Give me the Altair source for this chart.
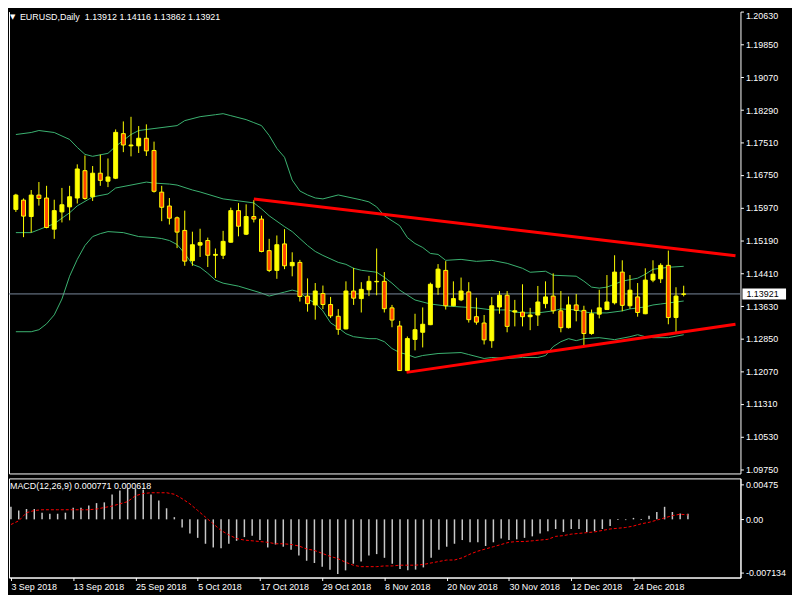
import altair as alt
import pandas as pd

# ---------------- data ----------------
opens = [1.1593, 1.1615, 1.1576, 1.1627, 1.1620, 1.1546, 1.1587, 1.1599, 1.1620, 1.1685,
         1.1623, 1.1679, 1.1660, 1.1667, 1.1773, 1.1744, 1.1744, 1.1762, 1.1733, 1.1634,
         1.1601, 1.1573, 1.1543, 1.1471, 1.1508, 1.1519, 1.1484, 1.1484, 1.1515, 1.1590,
         1.1534, 1.1576, 1.1570, 1.1495, 1.1448, 1.1511, 1.1459, 1.1467, 1.1387, 1.1366,
         1.1393, 1.1367, 1.1339, 1.1309, 1.1399, 1.1381, 1.1402, 1.1421, 1.1422, 1.1359,
         1.1316, 1.1210, 1.1284, 1.1301, 1.1319, 1.1408, 1.1448, 1.1364, 1.1378, 1.1397,
         1.1338, 1.1323, 1.1281, 1.1361, 1.1389, 1.1349, 1.1349, 1.1338, 1.1342, 1.1369,
         1.1387, 1.1352, 1.1312, 1.1366, 1.1353, 1.1298, 1.1344, 1.1355, 1.1371, 1.1444,
         1.1364, 1.1385, 1.1345, 1.1425, 1.1428, 1.1460, 1.1336, 1.13912]
highs = [1.1630, 1.1619, 1.1639, 1.1658, 1.1649, 1.1616, 1.1644, 1.1649, 1.1700, 1.1721,
         1.1696, 1.1723, 1.1714, 1.1783, 1.1802, 1.1813, 1.1791, 1.1795, 1.1754, 1.1649,
         1.1620, 1.1576, 1.1590, 1.1540, 1.1547, 1.1526, 1.1500, 1.1542, 1.1597, 1.1608,
         1.1605, 1.1615, 1.1578, 1.1523, 1.1531, 1.1546, 1.1491, 1.1473, 1.1429, 1.1418,
         1.1412, 1.1385, 1.1356, 1.1422, 1.1454, 1.1420, 1.1435, 1.1500, 1.1444, 1.1366,
         1.1328, 1.1291, 1.1345, 1.1360, 1.1419, 1.1463, 1.1470, 1.1422, 1.1431, 1.1420,
         1.1383, 1.1342, 1.1385, 1.1399, 1.1399, 1.1378, 1.1415, 1.1359, 1.1411, 1.1422,
         1.1441, 1.1399, 1.1386, 1.1392, 1.1364, 1.1355, 1.1402, 1.1437, 1.1484, 1.1472,
         1.1437, 1.1418, 1.1453, 1.1472, 1.1465, 1.1495, 1.1408, 1.14116]
lows = [1.1587, 1.1527, 1.1538, 1.1602, 1.1548, 1.1523, 1.1562, 1.1567, 1.1607, 1.1616,
        1.1613, 1.1649, 1.1646, 1.1665, 1.1729, 1.1719, 1.1727, 1.1720, 1.1633, 1.1565,
        1.1557, 1.1501, 1.1459, 1.1459, 1.1480, 1.1456, 1.1430, 1.1475, 1.1514, 1.1529,
        1.1532, 1.1562, 1.1491, 1.1444, 1.1428, 1.1451, 1.1434, 1.1374, 1.1350, 1.1331,
        1.1356, 1.1335, 1.1295, 1.1308, 1.1366, 1.1348, 1.1387, 1.1389, 1.1348, 1.1313,
        1.1209, 1.1209, 1.1258, 1.1265, 1.1318, 1.1390, 1.1355, 1.1363, 1.1375, 1.1324,
        1.1319, 1.1272, 1.1264, 1.1345, 1.1301, 1.1315, 1.1315, 1.1306, 1.1316, 1.1358,
        1.1345, 1.1301, 1.1310, 1.1327, 1.1269, 1.1295, 1.1334, 1.1354, 1.1367, 1.1351,
        1.1357, 1.1338, 1.1344, 1.1420, 1.1418, 1.1320, 1.1302, 1.13862]
closes = [1.1627, 1.1577, 1.1627, 1.1619, 1.1550, 1.1590, 1.1604, 1.1623, 1.1689, 1.1619,
          1.1679, 1.1662, 1.1670, 1.1776, 1.1746, 1.1746, 1.1762, 1.1732, 1.1636, 1.1598,
          1.1572, 1.1539, 1.1470, 1.1509, 1.1514, 1.1484, 1.1486, 1.1517, 1.1590, 1.1553,
          1.1576, 1.1570, 1.1493, 1.1448, 1.1509, 1.1459, 1.1467, 1.1386, 1.1369, 1.1399,
          1.1367, 1.1340, 1.1308, 1.1399, 1.1382, 1.1403, 1.1422, 1.1422, 1.1357, 1.1330,
          1.1210, 1.1286, 1.1307, 1.1320, 1.1415, 1.1451, 1.1364, 1.1381, 1.1399, 1.1331,
          1.1325, 1.1283, 1.1364, 1.1389, 1.1315, 1.1352, 1.1338, 1.1342, 1.1373, 1.1385,
          1.1352, 1.1312, 1.1366, 1.1353, 1.1298, 1.1345, 1.1359, 1.1373, 1.1444, 1.1365,
          1.1401, 1.1348, 1.1425, 1.1439, 1.1460, 1.1336, 1.1387, 1.13921]

# Bollinger bands (sampled along the bar index)
upper_idx = [0, 2, 3, 5, 7, 8, 9, 10, 12, 13, 15, 16, 18, 21, 22, 24, 26, 27, 28, 30,
             31, 32, 33, 34, 35, 36, 37, 38, 39, 40, 42, 45, 46, 47, 48, 50, 51, 52, 53, 54,
             55, 56, 58, 60, 62, 64, 66, 67, 69, 70, 73, 74, 75, 76, 77, 79, 81, 82, 83, 85, 87]
upper_val = [1.17709, 1.17757, 1.17804, 1.17757, 1.17592, 1.17403, 1.17238, 1.17191, 1.17262, 1.17427,
             1.17709, 1.17804, 1.17851, 1.17921, 1.18039, 1.18133, 1.18180, 1.18204, 1.18157, 1.18063,
             1.17992, 1.17921, 1.17686, 1.17380, 1.17168, 1.16626, 1.16367, 1.16273, 1.16202, 1.16179,
             1.16273, 1.16155, 1.16108, 1.15990, 1.15778, 1.15543, 1.15260, 1.15119, 1.15025, 1.14883,
             1.14860, 1.14719, 1.14742, 1.14695, 1.14719, 1.14648, 1.14530, 1.14436, 1.14460, 1.14365,
             1.14342, 1.14224, 1.14083, 1.14059, 1.14083, 1.14224, 1.14295, 1.14389, 1.14507, 1.14554, 1.14577]
middle_idx = [0, 2, 3, 5, 7, 8, 10, 12, 13, 15, 17, 18, 20, 21, 23, 24, 27, 29, 31, 32,
              33, 35, 36, 37, 38, 39, 40, 42, 43, 44, 45, 47, 48, 49, 50, 52, 54, 56, 58, 60,
              62, 64, 65, 66, 68, 70, 71, 73, 74, 75, 77, 79, 80, 82, 83, 84, 85, 87]
middle_val = [1.15378, 1.15378, 1.15449, 1.15590, 1.15849, 1.16014, 1.16226, 1.16296, 1.16438, 1.16508,
              1.16579, 1.16555, 1.16532, 1.16508, 1.16391, 1.16344, 1.16179, 1.16132, 1.16084, 1.15943,
              1.15778, 1.15519, 1.15402, 1.15237, 1.15072, 1.14931, 1.14836, 1.14671, 1.14624, 1.14530,
              1.14483, 1.14436, 1.14318, 1.14177, 1.14012, 1.13777, 1.13682, 1.13635, 1.13612, 1.13588,
              1.13541, 1.13541, 1.13494, 1.13470, 1.13470, 1.13518, 1.13565, 1.13541, 1.13494, 1.13470,
              1.13470, 1.13518, 1.13565, 1.13612, 1.13659, 1.13682, 1.13706, 1.13753]
lower_idx = [0, 2, 3, 4, 5, 6, 7, 8, 9, 10, 11, 12, 14, 16, 18, 19, 20, 21, 22, 23,
             24, 25, 26, 27, 29, 32, 33, 35, 36, 37, 38, 39, 40, 41, 42, 43, 44, 46, 47, 48,
             49, 50, 51, 52, 53, 55, 58, 59, 61, 62, 64, 66, 68, 69, 70, 71, 72, 73, 74, 76,
             78, 80, 81, 82, 83, 85, 87]
lower_val = [1.13023, 1.13023, 1.13070, 1.13211, 1.13423, 1.13800, 1.14342, 1.14742, 1.15072, 1.15284,
             1.15354, 1.15402, 1.15378, 1.15284, 1.15260, 1.15237, 1.15190, 1.15095, 1.14883, 1.14624,
             1.14554, 1.14412, 1.14248, 1.14177, 1.14106, 1.13941, 1.13871, 1.13965, 1.14012, 1.13965,
             1.13800, 1.13706, 1.13518, 1.13235, 1.13117, 1.12976, 1.12905, 1.12858, 1.12858, 1.12787,
             1.12623, 1.12528, 1.12481, 1.12411, 1.12458, 1.12505, 1.12528, 1.12481, 1.12387, 1.12411,
             1.12387, 1.12411, 1.12411, 1.12458, 1.12670, 1.12787, 1.12858, 1.12811, 1.12858, 1.12882,
             1.12835, 1.12905, 1.12952, 1.12905, 1.12882, 1.12882, 1.12952]

# Hand-drawn trend lines (bar index, price)
trend_upper_idx = [31, 93.75]
trend_upper_val = [1.16179, 1.14827]
trend_lower_idx = [50.9, 93.75]
trend_lower_val = [1.12057, 1.13202]

# MACD(12,26,9)
macd_main = [0.0017, 0.0012, 0.0014, 0.0014, 0.0009, 0.00076, 0.00076, 0.0009, 0.00156, 0.00156,
             0.00188, 0.0022, 0.0023, 0.00335, 0.0039, 0.0042, 0.0042, 0.0040, 0.00335, 0.00255,
             0.0015, 0.0003, -0.0011, -0.0019, -0.0025, -0.0033, -0.0038, -0.0039, -0.0033, -0.0029,
             -0.0024, -0.0022, -0.0028, -0.0038, -0.0034, -0.0037, -0.0041, -0.0049, -0.0056, -0.0059,
             -0.0064, -0.0068, -0.0074, -0.0069, -0.0060, -0.0057, -0.0049, -0.0047, -0.0052, -0.0060,
             -0.0067, -0.0069, -0.0068, -0.0065, -0.0052, -0.0041, -0.0037, -0.0033, -0.0028, -0.0031,
             -0.0031, -0.0036, -0.0031, -0.0026, -0.0028, -0.0027, -0.0025, -0.0023, -0.0019, -0.0016,
             -0.0013, -0.0017, -0.0013, -0.0013, -0.0017, -0.0016, -0.0013, -0.0009, -0.0001, -0.0001,
             0.0002, -0.0001, 0.0005, 0.0010, 0.0017, 0.0010, 0.0008, 0.00077]
macd_signal = [-0.0007, -0.0002, 0.0009, 0.0012, 0.0013, 0.0013, 0.0013, 0.0013, 0.0013, 0.0013,
               0.0013, 0.0014, 0.0016, 0.0018, 0.0021, 0.0024, 0.0032, 0.0035, 0.0036, 0.0036,
               0.0036, 0.0034, 0.0028, 0.0021, 0.0012, 0.0003, -0.0006, -0.0015, -0.0021, -0.0026,
               -0.0028, -0.0029, -0.0030, -0.0031, -0.0033, -0.0033, -0.0034, -0.0036, -0.0040, -0.0042,
               -0.0046, -0.0050, -0.0053, -0.0058, -0.0062, -0.0064, -0.0064, -0.0064, -0.0063, -0.0063,
               -0.0062, -0.0062, -0.0062, -0.0061, -0.0059, -0.0057, -0.0055, -0.0055, -0.0052, -0.0047,
               -0.0043, -0.0040, -0.0037, -0.0034, -0.0031, -0.0030, -0.0030, -0.0029, -0.0028, -0.0027,
               -0.0023, -0.0022, -0.0020, -0.0019, -0.0018, -0.0017, -0.0015, -0.0013, -0.0012, -0.0011,
               -0.0009, -0.0006, -0.0004, -0.0001, 0.0002, 0.0005, 0.0007, 0.0006]

date_label_idx = [0, 8, 16, 24, 32, 40, 48, 56, 64, 72, 80]
date_labels = ["3 Sep 2018", "13 Sep 2018", "25 Sep 2018", "5 Oct 2018", "17 Oct 2018",
               "29 Oct 2018", "8 Nov 2018", "20 Nov 2018", "30 Nov 2018", "12 Dec 2018",
               "24 Dec 2018"]
price_ticks = [1.20630, 1.19850, 1.19070, 1.18290, 1.17510, 1.16750, 1.15970, 1.15190,
               1.14410, 1.13630, 1.12850, 1.12070, 1.11310, 1.10530, 1.09750]
macd_ticks = [0.00475, 0.0, -0.007134]
macd_tick_labels = ["0.00475", "0.00", "-0.007134"]

header_text = "EURUSD,Daily\u00a0 1.13912 1.14116 1.13862 1.13921"
macd_text = "MACD(12,26,9) 0.000771 0.000618"

# ---------------- layout / style ----------------
W = 738
H_MAIN = 466
H_MACD = 100
X_DOMAIN = [-0.25, 93.75]
Y_DOMAIN = [1.09655, 1.20630]
M_DOMAIN = [-0.00787, 0.00554]
FONT = "Liberation Sans"
BULL = "#ffff00"
BEAR = "#ff4500"
BAND = "#3cb371"

xs = alt.Scale(domain=X_DOMAIN, nice=False, zero=False)
ys = alt.Scale(domain=Y_DOMAIN, nice=False, zero=False)
ms = alt.Scale(domain=M_DOMAIN, nice=False, zero=False)

n = len(closes)
candles = pd.DataFrame({
    "i": list(range(n)), "o": opens, "h": highs, "l": lows, "c": closes,
})
candles["dir"] = ["up" if c >= o else "down" for o, c in zip(opens, closes)]

bands = pd.concat([
    pd.DataFrame({"band": "upper", "i": upper_idx, "p": upper_val}),
    pd.DataFrame({"band": "middle", "i": middle_idx, "p": middle_val}),
    pd.DataFrame({"band": "lower", "i": lower_idx, "p": lower_val}),
])
trends = pd.concat([
    pd.DataFrame({"line": "upper", "i": trend_upper_idx, "p": trend_upper_val}),
    pd.DataFrame({"line": "lower", "i": trend_lower_idx, "p": trend_lower_val}),
])
last = pd.DataFrame({"c": [closes[-1]], "t": ["%.5f" % closes[-1]]})
macd_df = pd.DataFrame({"i": list(range(n)), "m": macd_main, "s": macd_signal})


def js_list(vals):
    return "[" + ",".join("'" + v + "'" if isinstance(v, str) else repr(v) for v in vals) + "]"


main_x_axis = alt.Axis(labels=False, ticks=False, domain=True, grid=False, title=None)
main_y_axis = alt.Axis(orient="right", values=price_ticks, format=".5f", tickSize=3,
                       labelPadding=2, labelFlush=True, domain=True, grid=False, title=None)
left_border_axis = alt.Axis(orient="left", labels=False, ticks=False, domain=True,
                            grid=False, title=None)
macd_x_axis = alt.Axis(values=date_label_idx,
                       labelExpr=f"{js_list(date_labels)}[indexof({js_list(date_label_idx)}, datum.value)]",
                       labelAlign="left", labelPadding=2, tickSize=3, labelFlush=False,
                       labelOverlap=False, domain=True, grid=False, title=None)
macd_y_axis = alt.Axis(orient="right", values=macd_ticks,
                       labelExpr=f"{js_list(macd_tick_labels)}[indexof({js_list(macd_ticks)}, datum.value)]",
                       tickSize=3, labelPadding=2, domain=True, grid=False, title=None,
                       labelOverlap=False)


def X(axis, field="i:Q"):
    return alt.X(field, scale=xs, axis=axis, title=None)


def Y(field, axis=None):
    return alt.Y(field, scale=ys, axis=axis, title=None)


def M(field):
    return alt.Y(field, scale=ms, axis=macd_y_axis, title=None)


# ---------------- main price panel ----------------
band_layer = alt.Chart(bands).mark_line(color=BAND, strokeWidth=1, clip=True).encode(
    x=X(main_x_axis), y=Y("p:Q"), detail="band:N")

close_line = alt.Chart(last).mark_rule(color="#7a8a9c", strokeWidth=1).encode(
    y=Y("c:Q", left_border_axis))

wicks = alt.Chart(candles).mark_rule(color=BULL, strokeWidth=1).encode(
    x=X(main_x_axis), y=Y("l:Q", main_y_axis), y2="h:Q")

bodies = alt.Chart(candles).mark_bar(size=4, stroke=BULL, strokeWidth=1).encode(
    x=X(main_x_axis), y=Y("o:Q"), y2="c:Q",
    fill=alt.Fill("dir:N", scale=alt.Scale(domain=["up", "down"], range=[BULL, BEAR]),
                  legend=None))

trend_layer = alt.Chart(trends).mark_line(color="#ff0000", strokeWidth=3, clip=True).encode(
    x=X(main_x_axis), y=Y("p:Q"), detail="line:N")

price_box = alt.Chart(last).mark_rule(color="white", strokeWidth=11).encode(
    x=alt.value(W + 2), x2=alt.value(W + 46), y=Y("c:Q"))
price_box_text = alt.Chart(last).mark_text(
    color="black", font=FONT, fontSize=9, align="left", baseline="middle").encode(
    x=alt.value(W + 6), y=Y("c:Q"), text="t:N")

header_df = pd.DataFrame({"t": [header_text], "m": ["\u25bc"]})
header = alt.Chart(header_df).mark_text(
    color="white", font=FONT, fontSize=9, align="left", baseline="middle").encode(
    x=alt.value(11), y=alt.value(5), text="t:N")
header_tri = alt.Chart(header_df).mark_text(
    color="white", font="DejaVu Sans", fontSize=7, align="left", baseline="middle").encode(
    x=alt.value(1), y=alt.value(5), text="m:N")

main = alt.layer(
    band_layer, close_line, wicks, bodies, trend_layer,
    price_box, price_box_text, header_tri, header,
).resolve_axis(y="independent").properties(
    width=W, height=H_MAIN, view=alt.ViewBackground(strokeOpacity=0))

# ---------------- MACD panel ----------------
hist = alt.Chart(macd_df).mark_rule(color="#c8c8c8", strokeWidth=1.5).encode(
    x=X(macd_x_axis), y=M("m:Q"), y2=alt.datum(0))
signal = alt.Chart(macd_df).mark_line(color="#ff0000", strokeWidth=1, strokeDash=[3, 2]).encode(
    x=X(macd_x_axis), y=M("s:Q"))
macd_label = alt.Chart(pd.DataFrame({"t": [macd_text]})).mark_text(
    color="white", font=FONT, fontSize=9, align="left", baseline="middle").encode(
    x=alt.value(1), y=alt.value(8), text="t:N")

macd = alt.layer(hist, signal, macd_label).properties(
    width=W, height=H_MACD,
    view=alt.ViewBackground(stroke="white", strokeWidth=1, strokeOpacity=1))

chart = alt.vconcat(main, macd, spacing=3).properties(
    padding=0, background="black"
).configure_axis(
    domainColor="white", tickColor="white", labelColor="white",
    labelFont=FONT, labelFontSize=9, grid=False,
)

chart.save("out.html", embed_options={"renderer": "svg", "actions": False})
